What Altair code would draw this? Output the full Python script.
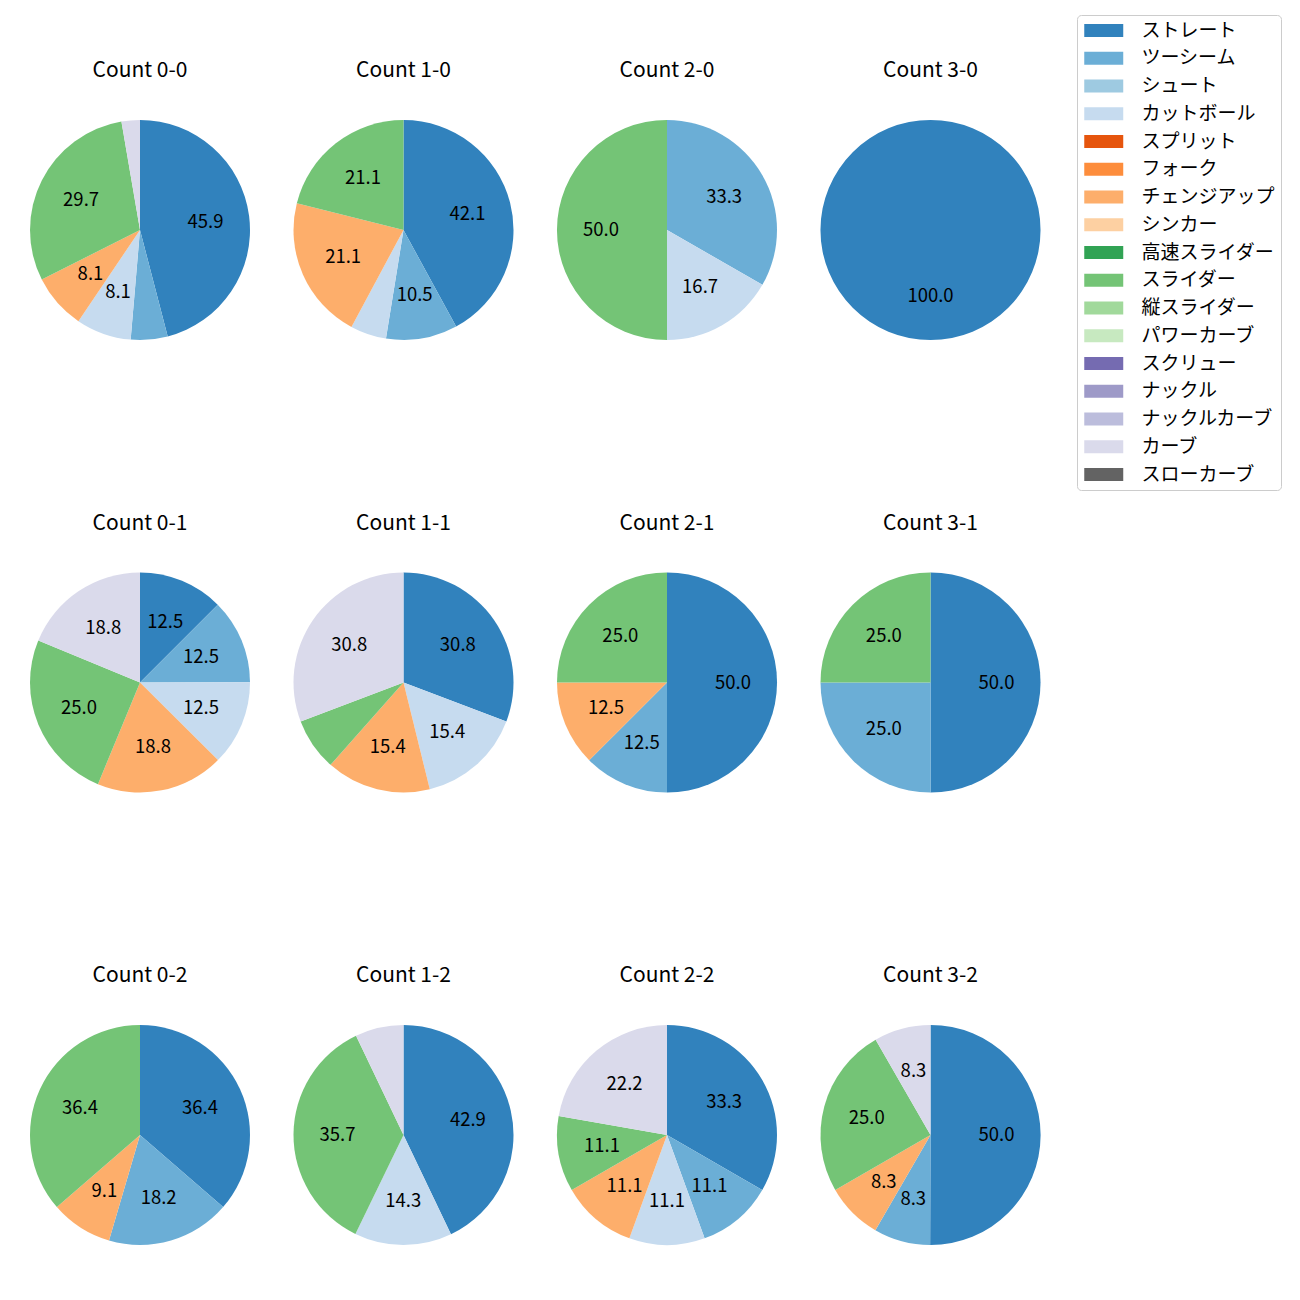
import altair as alt
import pandas as pd

pitches = ["ストレート", "ツーシーム", "シュート", "カットボール", "スプリット", "フォーク",
           "チェンジアップ", "シンカー", "高速スライダー", "スライダー", "縦スライダー",
           "パワーカーブ", "スクリュー", "ナックル", "ナックルカーブ", "カーブ", "スローカーブ"]
colors = ["#3182bd", "#6baed6", "#9ecae1", "#c6dbef", "#e6550d", "#fd8d3c", "#fdae6b",
          "#fdd0a2", "#31a354", "#74c476", "#a1d99b", "#c7e9c0", "#756bb1", "#9e9ac8",
          "#bcbddc", "#dadaeb", "#636363"]

counts = ["0-0", "1-0", "2-0", "3-0",
          "0-1", "1-1", "2-1", "3-1",
          "0-2", "1-2", "2-2", "3-2"]

# percentages per count, listed as (pitch, value)
shares = {
    "0-0": [("ストレート", 45.9), ("ツーシーム", 5.4), ("カットボール", 8.1), ("チェンジアップ", 8.1), ("スライダー", 29.7), ("カーブ", 2.7)],
    "1-0": [("ストレート", 42.1), ("ツーシーム", 10.5), ("カットボール", 5.3), ("チェンジアップ", 21.1), ("スライダー", 21.1)],
    "2-0": [("ツーシーム", 33.3), ("カットボール", 16.7), ("スライダー", 50.0)],
    "3-0": [("ストレート", 100.0)],
    "0-1": [("ストレート", 12.5), ("ツーシーム", 12.5), ("カットボール", 12.5), ("チェンジアップ", 18.8), ("スライダー", 25.0), ("カーブ", 18.8)],
    "1-1": [("ストレート", 30.8), ("カットボール", 15.4), ("チェンジアップ", 15.4), ("スライダー", 7.7), ("カーブ", 30.8)],
    "2-1": [("ストレート", 50.0), ("ツーシーム", 12.5), ("チェンジアップ", 12.5), ("スライダー", 25.0)],
    "3-1": [("ストレート", 50.0), ("ツーシーム", 25.0), ("スライダー", 25.0)],
    "0-2": [("ストレート", 36.4), ("ツーシーム", 18.2), ("チェンジアップ", 9.1), ("スライダー", 36.4)],
    "1-2": [("ストレート", 42.9), ("カットボール", 14.3), ("スライダー", 35.7), ("カーブ", 7.1)],
    "2-2": [("ストレート", 33.3), ("ツーシーム", 11.1), ("カットボール", 11.1), ("チェンジアップ", 11.1), ("スライダー", 11.1), ("カーブ", 22.2)],
    "3-2": [("ストレート", 50.0), ("ツーシーム", 8.3), ("チェンジアップ", 8.3), ("スライダー", 25.0), ("カーブ", 8.3)],
}

FONT = "Noto Sans CJK JP"
R = 110

color_scale = alt.Scale(domain=pitches, range=colors)


def pie(count):
    rows = []
    for p, v in shares[count]:
        rows.append({"pitch": p, "idx": pitches.index(p), "value": v,
                     "label": f"{v:.1f}" if v >= 8 else ""})
    df = pd.DataFrame(rows)
    base = alt.Chart(df).encode(
        theta=alt.Theta("value:Q", stack=True),
        order=alt.Order("idx:Q", sort="ascending"),
    )
    arc = base.mark_arc(outerRadius=R).encode(
        color=alt.Color("pitch:N", scale=color_scale, title=None,
                        legend=alt.Legend(values=pitches))
    )
    text = base.mark_text(radius=R * 0.6, font=FONT, fontSize=18.5, color="black").encode(
        text="label:N"
    )
    return alt.layer(arc, text).properties(
        width=220, height=220,
        title=alt.TitleParams(f"Count {count}", font=FONT, fontSize=21,
                              fontWeight="normal", color="black", offset=39),
    )


rows = []
for r in range(3):
    rows.append(alt.hconcat(*[pie(c) for c in counts[r * 4:(r + 1) * 4]], spacing=43.5))

chart = alt.vconcat(*rows, spacing=172.5).properties(
    padding={"left": 22, "top": 6, "right": 5, "bottom": 5}
).configure_view(stroke=None).configure_legend(
    orient="none", legendX=1047, legendY=-105,
    strokeColor="#cccccc", fillColor="white", cornerRadius=4, padding=5.5,
    labelFont=FONT, labelFontSize=19, labelColor="black", labelOffset=39,
    symbolType="M-0.846,-0.667H3.154V0.667H-0.846Z", symbolSize=380, symbolStrokeWidth=0,
    rowPadding=7.75,
).configure_title(anchor="middle")

chart.save("out.html", embed_options={"renderer": "svg", "actions": False})
